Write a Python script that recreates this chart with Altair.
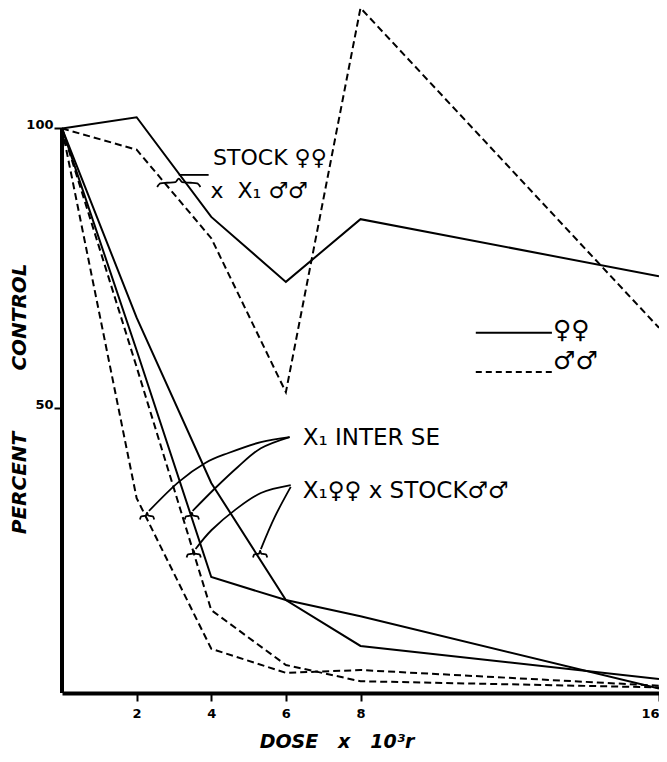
import altair as alt
import pandas as pd

# ---------------- data ----------------
doses = [0, 2, 4, 6, 8, 16]
stock_f = [100, 102.0, 84.2, 72.6, 83.8, 73.6]
stock_m = [100, 96.2, 80.4, 52.9, 121.5, 64.4]
inter_f = [100, 60.4, 19.9, 15.8, 12.9, 0.0]
inter_m = [100, 34.0, 7.1, 2.8, 3.3, 0.5]
x1f_stock_f = [100, 66.2, 36.7, 15.8, 7.6, 1.7]
x1f_stock_m = [100, 57.4, 14.0, 4.2, 1.3, 0.2]

x_ticks = [2, 4, 6, 8, 16]
y_ticks = [50, 100]

FONT = "DejaVu Sans"
NB = "\u00a0"

rows = []
for name, vals, sex in [
    ("stock_f", stock_f, "F"), ("stock_m", stock_m, "M"),
    ("inter_f", inter_f, "F"), ("inter_m", inter_m, "M"),
    ("x1f_stock_f", x1f_stock_f, "F"), ("x1f_stock_m", x1f_stock_m, "M"),
]:
    for d, v in zip(doses, vals):
        rows.append({"dose": d, "value": v, "series": name, "sex": sex})
df = pd.DataFrame(rows)

xs = alt.Scale(domain=[0, 16], nice=False, zero=False)
ys = alt.Scale(domain=[-0.8, 121.5], nice=False, zero=False)

x_axis = alt.Axis(values=x_ticks, title="", grid=False, domain=True, domainColor="black",
                  domainWidth=4, ticks=True, tickColor="black", tickWidth=2, tickSize=8,
                  labelFont=FONT, labelFontSize=13, labelFontWeight="bold", labelColor="black",
                  labelPadding=6, labelFlush=True, labelOverlap=False)
y_axis = alt.Axis(values=y_ticks, title="", grid=False, domain=False, ticks=True,
                  tickColor="black", tickWidth=2, tickSize=8, labelFont=FONT, labelFontSize=13,
                  labelFontWeight="bold", labelColor="black", labelPadding=1,
                  labelBaseline="alphabetic")


def X(f="dose"):
    return alt.X(f"{f}:Q", scale=xs, axis=x_axis)


def Y(f="value"):
    return alt.Y(f"{f}:Q", scale=ys, axis=y_axis)


females = alt.Chart(df[df.sex == "F"]).mark_line(color="black", strokeWidth=2).encode(
    x=X(), y=Y(), detail="series:N")
males = alt.Chart(df[df.sex == "M"]).mark_line(color="black", strokeWidth=2,
                                               strokeDash=[7, 4]).encode(
    x=X(), y=Y(), detail="series:N")

# y axis line (from 0 up to 100)
yaxis_df = pd.DataFrame({"dose": [0], "value": [-0.8], "value2": [100]})
yaxis_rule = alt.Chart(yaxis_df).mark_rule(color="black", strokeWidth=4).encode(
    x=X(), y=Y(), y2="value2:Q")

# ---------------- annotations ----------------
def brace(cx, cy, hw, h, key):
    shape = [(-1, -1), (-0.85, -0.15), (-0.55, 0), (-0.15, 0.15), (0, 1),
             (0.15, 0.15), (0.55, 0), (0.85, -0.15), (1, -1)]
    return [{"dose": cx + sx * hw, "value": cy + sy * h, "k": key, "i": i}
            for i, (sx, sy) in enumerate(shape)]

brace_rows = []
brace_rows += brace(3.13, 90.3, 0.58, 0.75, "b0")
brace_rows += brace(2.28, 30.8, 0.19, 0.62, "b1")
brace_rows += brace(3.48, 30.8, 0.19, 0.62, "b2")
brace_rows += brace(3.53, 24.0, 0.19, 0.62, "b3")
brace_rows += brace(5.31, 24.0, 0.19, 0.62, "b4")
braces = alt.Chart(pd.DataFrame(brace_rows)).mark_line(
    color="black", strokeWidth=1.8, interpolate="monotone").encode(
    x=X(), y=Y(), detail="k:N", order="i:Q")

leaders = {
    "c1": ([6.10, 5.33, 4.46, 3.85, 3.13, 2.33], [44.9, 44.0, 42.05, 40.3, 36.9, 31.7]),
    "c2": ([6.10, 5.33, 4.72, 4.11, 3.50], [44.9, 42.9, 39.6, 35.8, 31.7]),
    "c3": ([6.13, 5.33, 4.64, 4.01, 3.58], [36.3, 34.9, 31.9, 28.3, 24.9]),
    "c4": ([6.13, 5.70, 5.33], [36.0, 30.6, 24.9]),
    "c0": ([3.13, 3.93], [91.7, 91.7]),
}
lead_rows = []
for k, (xv, yv) in leaders.items():
    for i, (a, b) in enumerate(zip(xv, yv)):
        lead_rows.append({"dose": a, "value": b, "k": k, "i": i})
leader_lines = alt.Chart(pd.DataFrame(lead_rows)).mark_line(
    color="black", strokeWidth=1.8, interpolate="cardinal").encode(
    x=X(), y=Y(), detail="k:N", order="i:Q")

label_text = ["STOCK ♀♀", "x" + NB + NB + "X₁ ♂♂", "X₁ INTER SE", "X₁♀♀ x STOCK♂♂"]
label_x = [4.05, 3.98, 6.45, 6.45]
label_y = [93.5, 87.6, 43.5, 34.0]
label_size = [22, 22, 23, 23]
labels_df = pd.DataFrame({"dose": label_x, "value": label_y, "text": label_text,
                          "size": label_size})
labels = alt.Chart(labels_df).mark_text(align="left", baseline="alphabetic", font=FONT,
                                        color="black").encode(
    x=X(), y=Y(), text="text:N",
    size=alt.Size("size:Q", scale=None, legend=None))

# legend (solid = females, dashed = males)
leg_df = pd.DataFrame({"dose": [11.09], "dose2": [13.13], "value": [63.5]})
leg_df2 = pd.DataFrame({"dose": [11.09], "dose2": [13.13], "value": [56.5]})
leg_solid = alt.Chart(leg_df).mark_rule(color="black", strokeWidth=2).encode(
    x=X(), x2="dose2:Q", y=Y())
leg_dash = alt.Chart(leg_df2).mark_rule(color="black", strokeWidth=2,
                                        strokeDash=[6, 4]).encode(
    x=X(), x2="dose2:Q", y=Y())
leg_txt_df = pd.DataFrame({"dose": [13.16, 13.16], "value": [64.0, 58.4],
                           "text": ["♀♀", "♂♂"]})
leg_txt = alt.Chart(leg_txt_df).mark_text(align="left", baseline="middle", font=FONT,
                                          fontSize=25, color="black").encode(
    x=X(), y=Y(), text="text:N")

# axis titles
t_percent = alt.Chart(pd.DataFrame({"t": ["PERCENT"]})).mark_text(
    font=FONT, fontSize=20, fontStyle="italic", fontWeight="bold", angle=270,
    align="center", baseline="alphabetic", color="black").encode(
    text="t:N", x=alt.value(-36), y=alt.value(475))
t_control = alt.Chart(pd.DataFrame({"t": ["CONTROL"]})).mark_text(
    font=FONT, fontSize=20, fontStyle="italic", fontWeight="bold", angle=270,
    align="center", baseline="alphabetic", color="black").encode(
    text="t:N", x=alt.value(-36), y=alt.value(309))
dose_title = "DOSE" + NB * 3 + "x" + NB * 3 + "10³r"
t_dose = alt.Chart(pd.DataFrame({"t": [dose_title]})).mark_text(
    font=FONT, fontSize=19, fontStyle="italic", fontWeight="bold",
    align="center", baseline="alphabetic", color="black").encode(
    text="t:N", x=alt.value(275), y=alt.value(740))

chart = alt.layer(
    yaxis_rule, females, males, braces, leader_lines, labels,
    leg_solid, leg_dash, leg_txt, t_percent, t_control, t_dose,
).properties(
    width=597, height=685,
    padding={"left": 54, "top": 0, "right": 0, "bottom": 61},
    autosize=alt.AutoSizeParams(type="none"),
    background="white",
).configure_view(stroke="transparent")

chart.save("out.html", embed_options={"renderer": "svg", "actions": False})
